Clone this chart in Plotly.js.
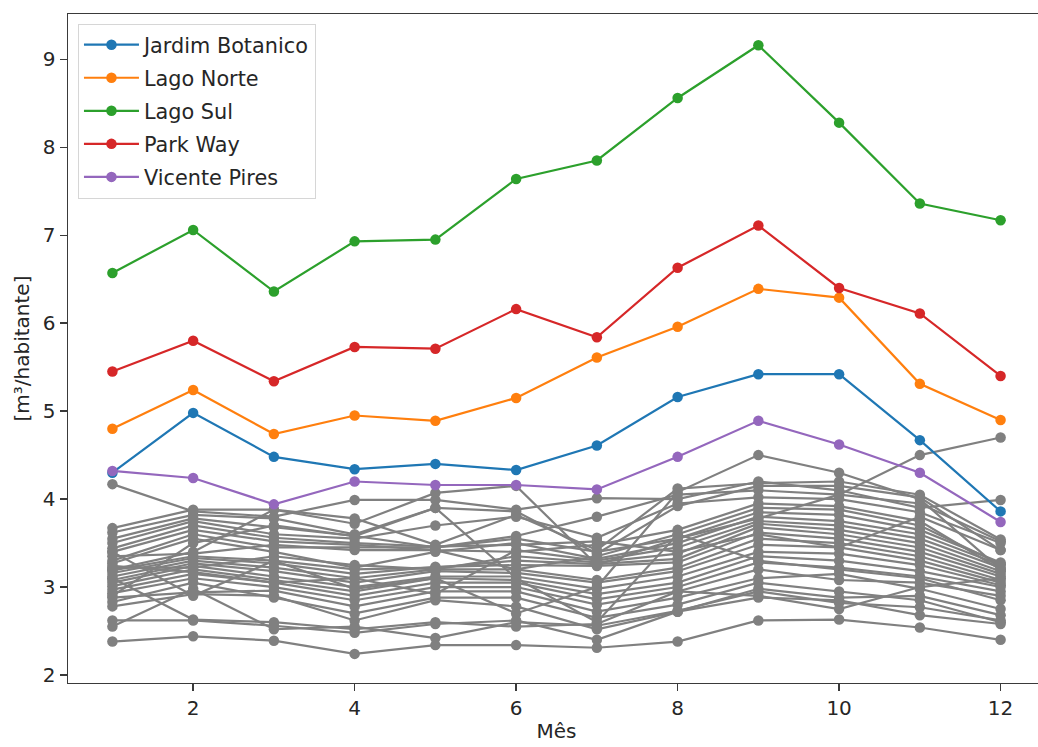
<!DOCTYPE html>
<html>
<head>
<meta charset="utf-8">
<script src="https://cdn.plot.ly/plotly-3.0.1.min.js"></script>
<style>
html,body{margin:0;padding:0;overflow:hidden;background:#fff;}
#chart{width:1050px;height:747px;}
</style>
</head>
<body>
<div id="chart"></div>
<script>
var months = [1,2,3,4,5,6,7,8,9,10,11,12];

var highlightNames = ["Jardim Botanico","Lago Norte","Lago Sul","Park Way","Vicente Pires"];
var jardimBotanico = [4.30,4.98,4.48,4.34,4.40,4.33,4.61,5.16,5.42,5.42,4.67,3.86];
var lagoNorte      = [4.80,5.24,4.74,4.95,4.89,5.15,5.61,5.96,6.39,6.29,5.31,4.90];
var lagoSul        = [6.57,7.06,6.36,6.93,6.95,7.64,7.85,8.56,9.16,8.28,7.36,7.17];
var parkWay        = [5.45,5.80,5.34,5.73,5.71,6.16,5.84,6.63,7.11,6.40,6.11,5.40];
var vicentePires   = [4.32,4.24,3.94,4.20,4.16,4.16,4.11,4.48,4.89,4.62,4.30,3.74];
var highlightColors = ["#1f77b4","#ff7f0e","#2ca02c","#d62728","#9467bd"];

var g01 = [2.38,2.44,2.39,2.24,2.34,2.34,2.31,2.38,2.62,2.63,2.54,2.40];
var g02 = [2.62,2.62,2.56,2.48,2.58,2.62,2.40,2.72,2.88,2.85,2.68,2.58];
var g03 = [2.55,2.98,2.52,2.55,2.42,2.60,2.56,2.73,2.95,2.82,2.77,2.62];
var g04 = [2.78,2.92,2.90,2.62,2.85,2.78,2.52,2.72,2.98,2.88,2.90,2.68];
var g05 = [2.83,3.05,2.88,2.70,2.88,2.88,2.65,2.80,3.05,2.95,2.85,2.60];
var g06 = [2.88,2.94,2.96,2.78,2.95,2.95,2.72,2.88,3.10,3.15,2.98,2.75];
var g07 = [2.93,3.10,3.00,2.85,3.00,3.00,2.80,2.95,3.20,3.08,3.05,2.90];
var g08 = [2.97,3.15,3.05,2.90,3.05,3.05,2.86,3.00,3.28,3.22,3.12,2.95];
var g09 = [3.01,3.20,3.08,2.95,3.10,3.08,2.92,3.05,3.35,3.30,3.18,3.00];
var g10 = [3.05,3.24,3.12,3.00,3.12,3.12,2.98,3.12,3.40,3.38,3.25,3.02];
var g11 = [3.08,3.27,3.18,3.05,3.18,3.16,3.05,3.18,3.48,3.45,3.30,3.05];
var g12 = [3.12,3.30,3.22,3.10,3.20,3.20,3.08,3.22,3.55,3.50,3.35,3.08];
var g13 = [3.16,3.33,3.27,3.15,3.23,3.25,3.24,3.28,3.62,3.55,3.40,3.12];
var g14 = [3.19,3.35,3.30,3.20,3.22,3.30,3.26,3.32,3.68,3.60,3.45,3.15];
var g15 = [3.22,3.22,3.35,3.25,3.20,3.35,3.28,3.38,3.72,3.65,3.50,3.18];
var g16 = [3.24,3.17,3.05,3.10,2.92,3.42,3.30,3.45,3.75,3.70,3.55,3.22];
var g17 = [3.27,3.55,3.40,3.22,3.40,3.50,3.32,3.50,3.80,3.75,3.60,3.25];
var g18 = [3.30,3.60,3.45,3.45,3.45,3.55,3.40,3.55,3.85,3.82,3.65,3.28];
var g19 = [3.35,3.38,3.48,3.42,3.42,3.20,3.35,3.60,3.90,3.88,3.70,3.26];
var g20 = [3.40,3.65,3.52,3.48,3.42,3.40,3.48,3.65,3.95,3.92,3.75,3.20];
var g21 = [3.44,3.70,3.56,3.50,3.46,3.48,3.52,3.40,3.60,3.45,3.80,3.42];
var g22 = [3.50,3.75,3.60,3.55,3.70,3.80,3.56,3.95,4.02,4.00,3.85,3.50];
var g23 = [3.55,3.78,3.68,3.58,3.45,3.58,3.80,4.05,4.10,4.05,3.95,3.52];
var g24 = [3.62,3.82,3.78,3.60,3.90,3.86,3.38,3.92,4.15,4.15,4.02,3.42];
var g25 = [3.67,3.88,3.88,3.78,3.48,3.82,3.42,4.12,4.18,4.20,4.05,3.54];
var g26 = [4.17,3.86,3.80,3.99,3.99,3.88,4.01,4.00,4.20,4.10,3.90,3.99];
var g27 = [3.20,3.40,3.88,3.72,4.07,4.15,3.25,3.55,3.78,4.05,4.50,4.70];
var g28 = [3.40,2.90,3.30,2.98,3.10,2.70,3.00,4.08,4.50,4.30,4.00,3.20];
var g29 = [2.90,3.50,3.70,3.58,3.90,3.10,2.60,3.60,3.30,3.20,3.10,2.85];
var g30 = [3.10,2.63,2.60,2.52,2.60,2.55,2.58,2.95,2.90,2.75,3.00,3.10];

var grayRows = [g01,g02,g03,g04,g05,g06,g07,g08,g09,g10,g11,g12,g13,g14,g15,
                g16,g17,g18,g19,g20,g21,g22,g23,g24,g25,g26,g27,g28,g29,g30];
var highlightRows = [jardimBotanico,lagoNorte,lagoSul,parkWay,vicentePires];

var xTicks = [2,4,6,8,10,12];
var yTicks = [2,3,4,5,6,7,8,9];

var traces = [];
grayRows.forEach(function(r){
  traces.push({x:months,y:r,type:'scatter',mode:'lines+markers',
    line:{color:'#808080',width:2.2},marker:{color:'#808080',size:10.5},
    showlegend:false,hoverinfo:'skip'});
});
highlightRows.forEach(function(r,i){
  traces.push({x:months,y:r,type:'scatter',mode:'lines+markers',name:highlightNames[i],
    legendgroup:'g'+i,
    line:{color:highlightColors[i],width:2.2},marker:{color:highlightColors[i],size:10.5}});
});

var fontFam = 'DejaVu Sans, sans-serif';
var fs = 20;
var layout = {
  width:1050,height:747,
  margin:{l:68,r:4.5,t:14,b:63.7},
  paper_bgcolor:'#fff',plot_bgcolor:'#fff',
  font:{family:fontFam,size:fs,color:'#262626'},
  showlegend:true,
  legend:{x:0.0102,y:0.9855,xanchor:'left',yanchor:'top',
    bgcolor:'rgba(255,255,255,0.8)',bordercolor:'#d6d6d6',borderwidth:1,
    font:{family:fontFam,size:20.8,color:'#262626'},
    tracegroupgap:3,itemwidth:55},
  xaxis:{range:[0.45,12.55],tickvals:xTicks,ticktext:xTicks.map(String),
    showgrid:false,zeroline:false,showline:true,linecolor:'#3a3a3a',linewidth:1.4,mirror:true,
    ticks:'outside',ticklen:7,tickwidth:1.4,tickcolor:'#3a3a3a',
    title:{text:'Mês',font:{family:fontFam,size:fs,color:'#262626'},standoff:4}},
  yaxis:{range:[1.909,9.515],tickvals:yTicks,ticktext:yTicks.map(String),
    showgrid:false,zeroline:false,showline:true,linecolor:'#3a3a3a',linewidth:1.4,mirror:true,
    ticks:'outside',ticklen:7,tickwidth:1.4,tickcolor:'#3a3a3a',
    title:{text:'[m³/habitante]',font:{family:fontFam,size:fs,color:'#262626'},standoff:8}}
};

Plotly.newPlot('chart',traces,layout,{displayModeBar:false,staticPlot:true});
</script>
</body>
</html>
